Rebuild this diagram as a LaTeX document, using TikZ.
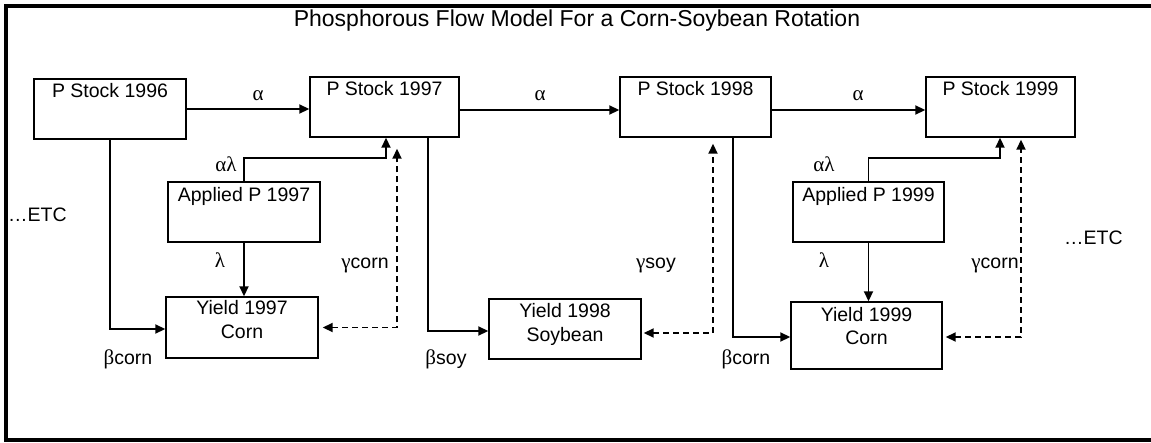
\documentclass[tikz,border=0pt]{standalone}
\usepackage{fontspec}
\setmainfont{Liberation Sans}
\newfontfamily\grk{Liberation Serif}
\usetikzlibrary{arrows.meta}
\tikzset{
  box/.style={draw, line width=1.4pt, inner sep=0pt, minimum width=151pt, minimum height=60pt},
  txt/.style={anchor=base, inner sep=0pt, font=\fontsize{19.5}{22}\selectfont},
  lbl/.style={anchor=base, inner sep=0pt, font=\fontsize{19.5}{22}\selectfont},
  gk/.style={font=\fontsize{21}{22}\selectfont\grk},
  arr/.style={line width=1.8pt, -{Triangle[length=10pt,width=9pt]}},
  darr/.style={line width=1.8pt, dash pattern=on 6pt off 4pt, {Triangle[length=10pt,width=9pt]}-{Triangle[length=10pt,width=9pt]}},
  frame/.style={line width=3.2pt}
}
\begin{document}
\begin{tikzpicture}[x=1pt,y=-1pt]
\useasboundingbox (0,0) rectangle (1151,442);
\clip (0,0) rectangle (1151,442);
% frame
\draw[frame] (1170,6) -- (6,6) -- (6,440) -- (1170,440);
% title
\node[anchor=base, inner sep=0pt, font=\fontsize{23}{27}\selectfont] (title) at (577,26) {Phosphorous Flow Model For a Corn-Soybean Rotation};
% boxes
\node[box, minimum width=152pt] (s96) at (110,109) {};
\node[box, minimum width=149pt] (s97) at (384.5,107) {};
\node[box] (s98) at (695.5,107) {};
\node[box, minimum width=149pt] (s99) at (1000.5,107) {};
\node[box, minimum width=152pt] (a97) at (244,212) {};
\node[box] (a99) at (868.5,212) {};
\node[box, minimum width=152pt, minimum height=61pt] (y97) at (242,327.5) {};
\node[box, minimum width=152pt] (y98) at (565,329) {};
\node[box, minimum height=67pt] (y99) at (866.5,335.5) {};
% box texts
\node[txt] (s96t) at ([yshift=-19.5pt]s96.north) {P Stock 1996};
\node[txt] (s97t) at ([yshift=-19.5pt]s97.north) {P Stock 1997};
\node[txt] (s98t) at ([yshift=-19.5pt]s98.north) {P Stock 1998};
\node[txt] (s99t) at ([yshift=-19.5pt]s99.north) {P Stock 1999};
\node[txt] (a97t) at ([yshift=-20pt]a97.north) {Applied P 1997};
\node[txt] (a99t) at ([yshift=-20pt]a99.north) {Applied P 1999};
\node[txt] (y97t) at ([yshift=-18.5pt]y97.north) {Yield 1997};
\node[txt] (y97u) at ([yshift=-42pt]y97.north) {Corn};
\node[txt] (y98t) at ([yshift=-19pt]y98.north) {Yield 1998};
\node[txt] (y98u) at ([yshift=-43pt]y98.north) {Soybean};
\node[txt] (y99t) at ([yshift=-20pt]y99.north) {Yield 1999};
\node[txt] (y99u) at ([yshift=-43pt]y99.north) {Corn};
% solid arrows
\draw[arr] (s96.east) -- (s96.east -| s97.west);
\draw[arr] ([yshift=-3pt]s97.east) -- ([yshift=-3pt]s98.west);
\draw[arr] ([yshift=-3pt]s98.east) -- ([yshift=-3pt]s99.west);
\draw[arr] (s96.south) |- ([yshift=-1.5pt]y97.west);
\draw[arr] ([xshift=43.5pt]s97.south) |- ([yshift=-2pt]y98.west);
\draw[arr] ([xshift=37.5pt]s98.south) |- ([yshift=-1.5pt]y99.west);
\draw[arr] (a97.north) -- ++(0,-23) -| ([xshift=1.5pt]s97.south);
\draw[arr] (a99.north) -- ++(0,-23) -| ([xshift=-0.5pt]s99.south);
\draw[arr] (a97.south) -- (a97.south |- y97.north);
\draw[arr] (a99.south) -- (a99.south |- y99.north);
% dashed arrows
\draw[darr] ([xshift=4pt]y97.east) -| ([xshift=12.5pt,yshift=-11pt]s97.south);
\draw[darr] ([xshift=2pt,yshift=-4pt]y98.east) -| ([xshift=17.5pt,yshift=-6pt]s98.south);
\draw[darr] ([xshift=3pt,yshift=-1.5pt]y99.east) -| ([xshift=20.5pt,yshift=-2pt]s99.south);
% labels
\node[lbl, gk] (al1) at (258,100) {α};
\node[lbl, gk] (al2) at (540,100) {α};
\node[lbl, gk] (al3) at (858,100) {α};
\node[lbl, gk] (all1) at (226,171) {αλ};
\node[lbl, gk] (all2) at (824,171) {αλ};
\node[lbl, gk] (lam1) at (220,267) {λ};
\node[lbl, gk] (lam2) at (824,267) {λ};
\node[lbl] (bc1) at (128,364) {{\fontsize{21}{22}\grk β}corn};
\node[lbl] (bs) at (446,364) {{\fontsize{21}{22}\grk β}soy};
\node[lbl] (bc2) at (746,364) {{\fontsize{21}{22}\grk β}corn};
\node[lbl] (gc1) at (365,268) {{\fontsize{21}{22}\grk γ}corn};
\node[lbl] (gs) at (656,268) {{\fontsize{21}{22}\grk γ}soy};
\node[lbl] (gc2) at (995,268) {{\fontsize{21}{22}\grk γ}corn};
\node[lbl, anchor=base west] (etc1) at (8,221) {…ETC};
\node[lbl, anchor=base west] (etc2) at (1064,244) {…ETC};
\end{tikzpicture}
\end{document}
